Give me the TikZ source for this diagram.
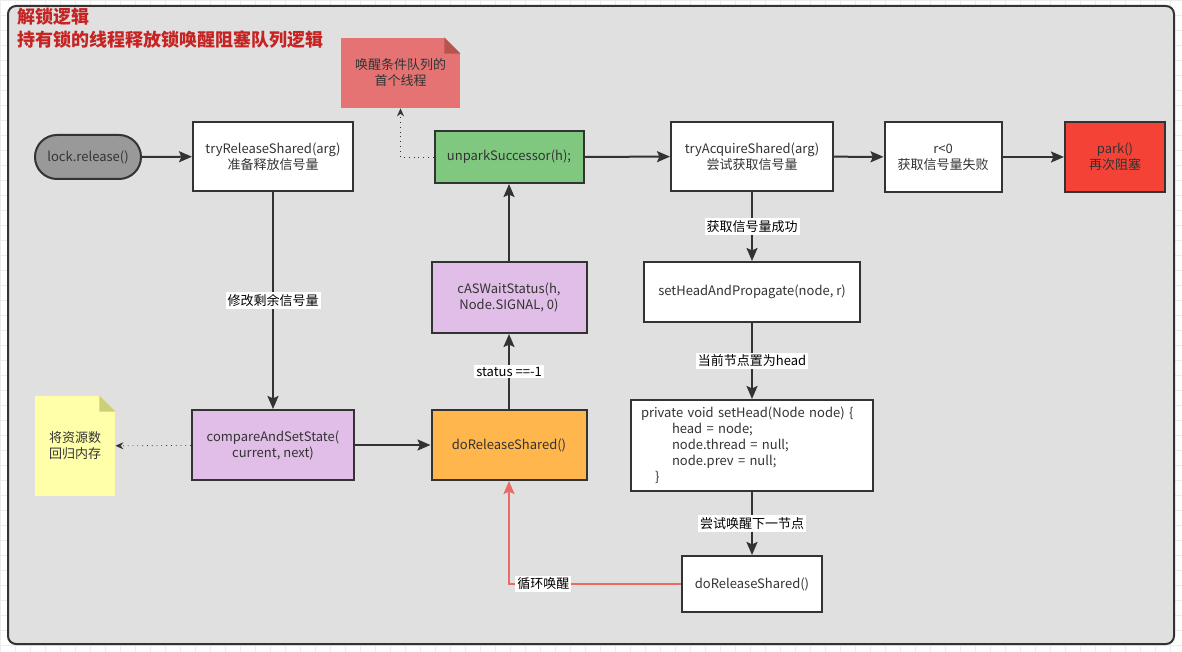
\documentclass[tikz,border=0pt]{standalone}
\usepackage{fontspec}
\setmainfont{Noto Sans CJK SC}
\usetikzlibrary{arrows.meta}
\definecolor{panelgray}{HTML}{E0E0E0}
\definecolor{gridgray}{HTML}{ECECEC}
\definecolor{linegray}{HTML}{333333}
\definecolor{titlered}{HTML}{C62323}
\definecolor{pillgray}{HTML}{999999}
\definecolor{okgreen}{HTML}{80C880}
\definecolor{lilac}{HTML}{E1BEE7}
\definecolor{amber}{HTML}{FFB74D}
\definecolor{parkred}{HTML}{F44336}
\definecolor{notered}{HTML}{E57373}
\definecolor{notefold}{HTML}{B85450}
\definecolor{noteyellow}{HTML}{FFFFAA}
\definecolor{yellowfold}{HTML}{CECE78}
\definecolor{looppink}{HTML}{EA6B66}
\begin{document}
\begin{tikzpicture}[x=0.5pt, y=-0.5pt, font=\fontsize{6.5}{8}\selectfont]
        \tikzstyle{box} = [draw=linegray, line width=1pt, text=linegray, align=center, inner sep=1pt]
        \tikzstyle{note} = [text=linegray, align=center, inner sep=1pt]
        \tikzstyle{lbl} = [fill=white, text=black, inner sep=1pt]
        \tikzstyle{flow} = [-{Stealth[length=6.5pt, width=5.5pt, inset=1.2pt]}, line width=1pt, draw=linegray]
        \tikzstyle{dots} = [-{Stealth[length=4pt, width=3.5pt]}, dotted, draw=linegray]
        % canvas grid and panel
        \useasboundingbox (0,0) rectangle (1182,652);
        \fill[white] (0,0) rectangle (1182,652);
        \draw[gridgray, line width=0.4pt, step=7.5pt] (0,0) grid (1182,652);
        \draw[linegray, fill=panelgray, line width=1pt, rounded corners=4pt] (8,6) rectangle (1174,644);
        \node[anchor=north west, align=left, text=titlered, font=\fontsize{9}{11.5}\selectfont\bfseries, inner sep=0pt] (title) at (17,8) {解锁逻辑\\持有锁的线程释放锁唤醒阻塞队列逻辑};

        % top row
        \node[box, fill=pillgray, rounded corners=11pt, minimum width=53pt, minimum height=22pt] (lock) at (88,157) {lock.release()};
        \node[box, fill=white, minimum width=80pt, minimum height=34.5pt] (trs) at (273,156.5) {tryReleaseShared(arg)\\准备释放信号量};
        \node[box, fill=okgreen, minimum width=74.5pt, minimum height=26pt] (unpark) at (509,157) {unparkSuccessor(h);};
        \node[box, fill=white, minimum width=81pt, minimum height=34.5pt] (tas) at (752,156.5) {tryAcquireShared(arg)\\尝试获取信号量};
        \node[box, fill=white, minimum width=58.5pt, minimum height=35pt] (fail) at (943,157) {r<0\\获取信号量失败};
        \node[box, fill=parkred, minimum width=50pt, minimum height=35pt] (park) at (1115,157) {park()\\再次阻塞};

        % sticky notes
        \node[note, fill=notered, minimum width=59.5pt, minimum height=35pt] (wake) at (400.5,73) {唤醒条件队列的\\首个线程};
        \fill[panelgray] ([xshift=-8pt]wake.north east) -- (wake.north east) -- ([yshift=-8pt]wake.north east) -- cycle;
        \fill[notefold] ([xshift=-8pt]wake.north east) -- ([yshift=-8pt]wake.north east) -- ([xshift=-8pt, yshift=-8pt]wake.north east) -- cycle;
        \node[note, fill=noteyellow, minimum width=40pt, minimum height=50pt] (mem) at (75,446) {将资源数\\回归内存};
        \fill[panelgray] ([xshift=-8pt]mem.north east) -- (mem.north east) -- ([yshift=-8pt]mem.north east) -- cycle;
        \fill[yellowfold] ([xshift=-8pt]mem.north east) -- ([yshift=-8pt]mem.north east) -- ([xshift=-8pt, yshift=-8pt]mem.north east) -- cycle;

        % middle and lower rows
        \node[box, fill=lilac, minimum width=77.5pt, minimum height=35.5pt] (cas) at (509,297.5) {cASWaitStatus(h,\\Node.SIGNAL, 0)};
        \node[box, fill=white, minimum width=108pt, minimum height=30pt] (shp) at (752,292) {setHeadAndPropagate(node, r)};
        \node[box, fill=lilac, minimum width=81pt, minimum height=35pt] (cass) at (273,445) {compareAndSetState(\\current, next)};
        \node[box, fill=amber, minimum width=77.5pt, minimum height=35pt] (drs) at (509,445) {doReleaseShared()};
        \node[box, fill=white, align=left, text width=111pt, inner xsep=5pt, minimum height=45.5pt] (sethead) at (752,445.5)
          {private void setHead(Node node) \{\\\hspace*{15.5pt}head = node;\\\hspace*{15.5pt}node.thread = null;\\\hspace*{15.5pt}node.prev = null;\\\hspace*{7pt}\}};
        \node[box, fill=white, minimum width=70pt, minimum height=28pt] (drs2) at (752,584) {doReleaseShared()};

        % connectors
        \draw[flow] (lock) -- (trs);
        \draw[flow] (trs) -- node[lbl] {修改剩余信号量} (cass);
        \draw[flow] (cass) -- (drs);
        \draw[dots] (cass) -- (mem);
        \draw[flow] (drs) -- node[lbl] {status ==-1} (cas);
        \draw[flow] (cas) -- (unpark);
        \draw[dots] (unpark.west) -| (wake.south);
        \draw[flow] (unpark) -- (tas);
        \draw[flow] (tas) -- (fail);
        \draw[flow] (fail) -- (park);
        \draw[flow] (tas) -- node[lbl] {获取信号量成功} (shp);
        \draw[flow] (shp) -- node[lbl] {当前节点置为head} (sethead);
        \draw[flow] (sethead) -- node[lbl] {尝试唤醒下一节点} (drs2);
        \draw[flow, looppink] (drs2.west) -| node[lbl, pos=0.4] {循环唤醒} (drs.south);
\end{tikzpicture}
\end{document}
